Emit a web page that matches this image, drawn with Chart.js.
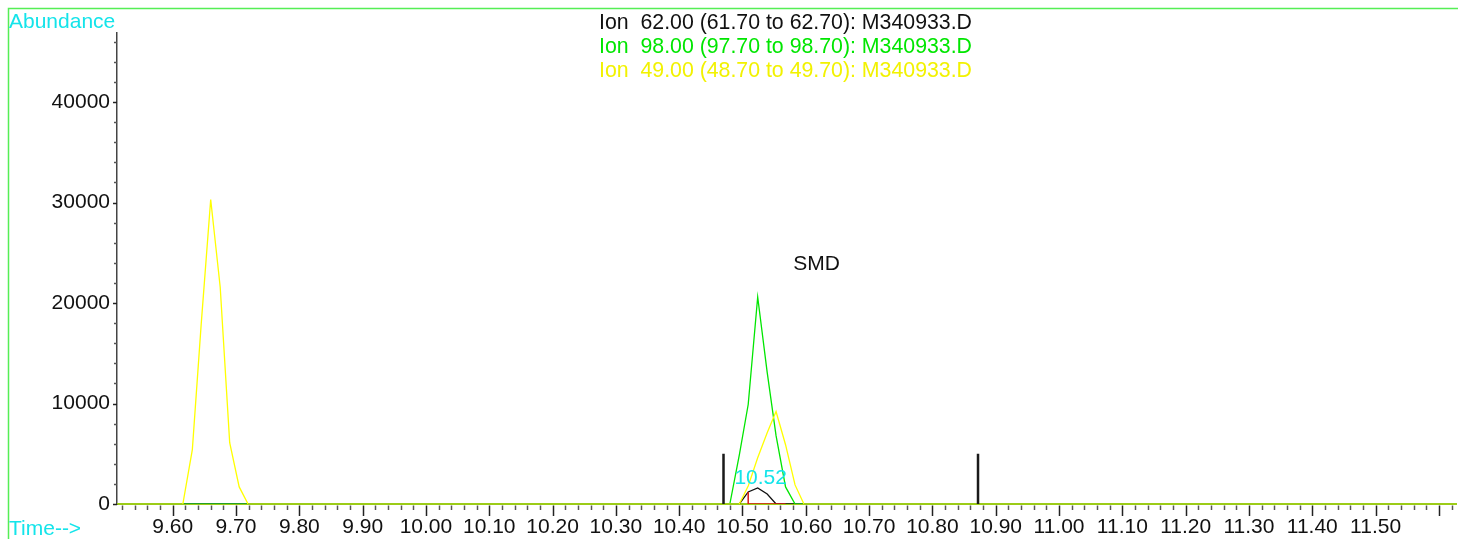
<!DOCTYPE html>
<html>
<head>
<meta charset="utf-8">
<script src="https://cdn.jsdelivr.net/npm/chart.js@4.4.1/dist/chart.umd.min.js"></script>
<style>
  html, body { margin:0; padding:0; background:#fff; }
  #wrap { width:1458px; height:539px; position:relative; }
</style>
</head>
<body>
<div id="wrap"><canvas id="tic"></canvas></div>
<script>
// ---- data ----
const X_TICK_LABELS = ['9.60','9.70','9.80','9.90','10.00','10.10','10.20','10.30','10.40','10.50',
  '10.60','10.70','10.80','10.90','11.00','11.10','11.20','11.30','11.40','11.50'];
const Y_TICK_LABELS = [0, 10000, 20000, 30000, 40000];

const ION62_TIME  = [9.512, 10.495, 10.509, 10.524, 10.539, 10.553, 11.627];
const ION62_ABUND = [0,     0,      1200,   1600,   1000,   0,      0];

const ION98_TIME  = [9.512, 10.480, 10.495, 10.509, 10.524, 10.539, 10.553, 10.568, 10.583, 11.627];
const ION98_ABUND = [0,     0,      4900,   9900,   20600,  13100,  6800,   1700,   0,      0];

const ION49_TIME  = [9.512, 9.616, 9.631, 9.645, 9.660, 9.675, 9.690, 9.705, 9.719,
  10.495, 10.509, 10.524, 10.539, 10.553, 10.568, 10.583, 10.597, 11.627];
const ION49_ABUND = [0,     0,     5400,  17900, 30300, 21600, 6100,  1700,  0,
  0,      1800,   4600,   7100,   9200,   5900,   1900,   0,      0];

// integration of the 10.52 peak
const INT_TIME  = [10.509, 10.509, 10.568];
const INT_ABUND = [1200,   0,      0];

// window markers
const MARKER_TIMES  = [10.470, 10.872];
const MARKER_HEIGHT = 5000;

const ION_LABELS = [
  'Ion  62.00 (61.70 to 62.70): M340933.D',
  'Ion  98.00 (97.70 to 98.70): M340933.D',
  'Ion  49.00 (48.70 to 49.70): M340933.D',
];
const PEAK_LABEL = { text:'10.52', t:10.524, v:2700 };
const CMPD_LABEL = { text:'SMD', t:10.617, v:24000 };

const X_MIN = 9.512, X_MAX = 11.627, Y_MAX = 46870;
const X_MINOR = 0.02, Y_MINOR = 2000;

const FAMILY = '"Liberation Sans", Arial, sans-serif';
const CYAN = '#14e4ea';
const C62 = '#111111', C98 = '#00e600', C49 = '#ffff00';
const BASE = '#9ccc18';

const pts = (xs, ys) => xs.map((x, i) => ({ x, y: ys[i] }));
const onBase = c => c.p0.parsed.y === 0 && c.p1.parsed.y === 0;
const baseSeg = (col, w) => ({
  borderColor: c => onBase(c) ? col : undefined,
  borderWidth: c => onBase(c) ? w : undefined
});

function markerPoints(){
  const out = [];
  MARKER_TIMES.forEach(t => { out.push({x:t, y:0}, {x:t, y:MARKER_HEIGHT}, {x:t, y:null}); });
  return out;
}

// frame, texts and tick marks
const decor = {
  id:'decor',
  afterDraw(chart){
    const {ctx, scales:{x, y}, chartArea:a} = chart;
    ctx.save();
    // green frame
    ctx.strokeStyle = '#55ee55';
    ctx.lineWidth = 1.5;
    ctx.beginPath();
    ctx.moveTo(8.5, 539); ctx.lineTo(8.5, 8.5); ctx.lineTo(1458, 8.5);
    ctx.stroke();

    // x tick marks
    ctx.lineWidth = 1.5;
    const nx = Math.round((X_MAX - 9.52) / X_MINOR);
    for (let i = 0; i <= nx; i++) {
      const v = 9.52 + i * X_MINOR;
      const major = (Math.round(v * 100) % 10) === 0;
      const px = Math.round(x.getPixelForValue(v)) + 0.5;
      ctx.strokeStyle = major ? '#222' : '#555';
      ctx.beginPath();
      ctx.moveTo(px, a.bottom + 1.5);
      ctx.lineTo(px, a.bottom + (major ? 12 : 6));
      ctx.stroke();
    }
    // y tick marks
    for (let v = 0; v <= Y_MAX; v += Y_MINOR) {
      const py = Math.round(y.getPixelForValue(v)) + 0.5;
      const major = v % 10000 === 0;
      ctx.strokeStyle = major ? '#222' : '#555';
      ctx.beginPath();
      ctx.moveTo(a.left - (major ? 4 : 3), py);
      ctx.lineTo(a.left, py);
      ctx.stroke();
    }

    ctx.font = '21px ' + FAMILY;
    ctx.textBaseline = 'alphabetic';
    ctx.textAlign = 'left';
    ctx.fillStyle = CYAN;
    ctx.fillText('Abundance', 9, 28);
    ctx.fillText('Time-->', 9, 535);

    ctx.font = '21.3px ' + FAMILY;
    const cols = [C62, C98, '#f2f200'];
    ION_LABELS.forEach((s, i) => { ctx.fillStyle = cols[i]; ctx.fillText(s, 599, 29 + i * 24); });

    ctx.font = '21px ' + FAMILY;
    ctx.textAlign = 'center';
    ctx.fillStyle = '#111';
    ctx.fillText(CMPD_LABEL.text, x.getPixelForValue(CMPD_LABEL.t), y.getPixelForValue(CMPD_LABEL.v) + 7);
    ctx.fillStyle = CYAN;
    ctx.fillText(PEAK_LABEL.text, x.getPixelForValue(PEAK_LABEL.t) + 3, y.getPixelForValue(PEAK_LABEL.v) + 7);
    ctx.restore();
  }
};

const line = (data, color, order, extra) => Object.assign({
  data, borderColor: color, borderWidth: 1.3, pointRadius: 0, tension: 0,
  fill: false, showLine: true, order
}, extra || {});

new Chart(document.getElementById('tic'), {
  type: 'scatter',
  data: {
    datasets: [
      line(markerPoints(), '#1a1a1a', 0, { borderWidth: 2.5, spanGaps: false }),
      line(pts(INT_TIME, INT_ABUND), '#d81818', 1, { borderWidth: 1.5 }),
      line(pts(ION49_TIME, ION49_ABUND), C49, 2, { segment: baseSeg(BASE, 2.2) }),
      line(pts(ION98_TIME, ION98_ABUND), C98, 3, { segment: baseSeg('#25a025', 2.2) }),
      line(pts(ION62_TIME, ION62_ABUND), C62, 4),
    ]
  },
  options: {
    responsive: true,
    maintainAspectRatio: false,
    animation: false,
    layout: { padding: { top: 33, right: 2, left: 0, bottom: 0 } },
    plugins: { legend: { display: false }, tooltip: { enabled: false } },
    scales: {
      x: {
        type: 'linear', min: X_MIN, max: X_MAX,
        afterFit: s => { s.height = 35; },
        afterBuildTicks: s => { s.ticks = X_TICK_LABELS.map(t => ({ value: parseFloat(t) })); },
        grid: { display: false, drawTicks: false },
        border: { display: true, color: BASE, width: 2 },
        ticks: { autoSkip: false, maxRotation: 0, padding: 11, color: '#111',
          font: { family: FAMILY, size: 21 },
          callback: v => v.toFixed(2) }
      },
      y: {
        min: 0, max: Y_MAX,
        afterFit: s => { s.width = 117; },
        afterBuildTicks: s => { s.ticks = Y_TICK_LABELS.map(v => ({ value: v })); },
        grid: { display: false, drawTicks: false },
        border: { display: true, color: '#444', width: 1.5 },
        ticks: { autoSkip: false, padding: 7, color: '#111',
          font: { family: FAMILY, size: 21 },
          callback: v => String(v) }
      }
    }
  },
  plugins: [decor]
});
</script>
</body>
</html>
